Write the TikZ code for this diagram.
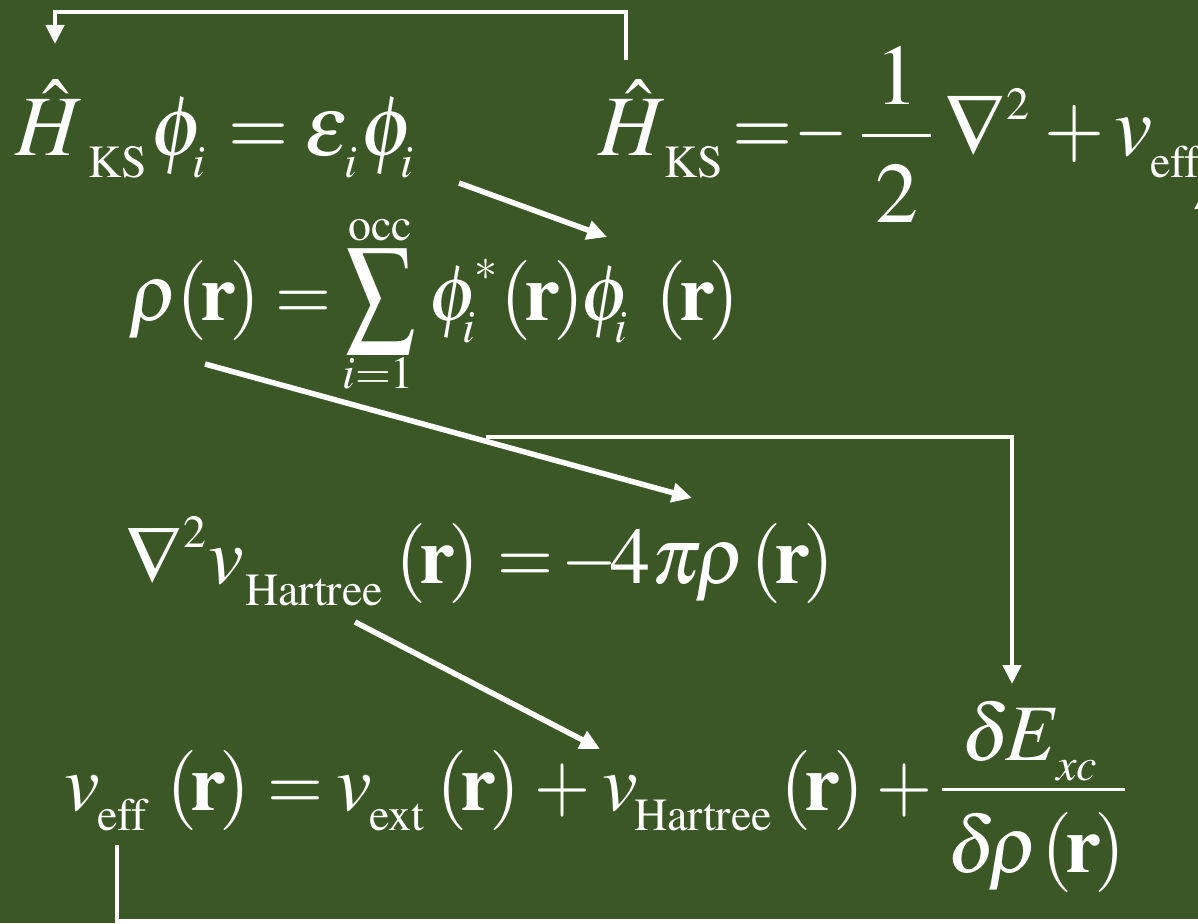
\documentclass[tikz,border=0pt]{standalone}
\usepackage{mathptmx}
\usetikzlibrary{arrows.meta}
\definecolor{bg}{RGB}{58,87,37}
\newcommand\eqp[4][eqm]{\node[#1] (#2) at #3 {$#4$};}
\newcommand\eqc[4][eqm]{\node[#1, anchor=base] (#2) at #3 {\scalebox{0.9}[1]{$#4$}};}
\newcommand\eqminus[3][eqm]{\node[#1, anchor=base] (#2) at #3 {\scalebox{0.8}[1]{$-$}};}
\newcommand\rr{(\mkern-1.5mu\mathbf{r}\mkern-1.5mu)}
\begin{document}
\begin{tikzpicture}[x=1pt,y=-1pt,
  eqm/.style={text=white, inner sep=0pt, anchor=base west, font=\fontsize{80}{90}\selectfont},
  eqs/.style={eqm, font=\fontsize{46}{50}\selectfont},
  eqM/.style={eqm, font=\fontsize{86}{96}\selectfont},
  fbar/.style={draw=white, line width=3pt},
  arr/.style={draw=white, line width=5.5pt, -{Triangle[length=20pt,width=19pt]}},
  fb/.style={draw=white, line width=4.5pt, -{Triangle[length=19pt,width=18pt]}}]
\fill[bg] (0,0) rectangle (1198,923);
\useasboundingbox (0,0) rectangle (1198,923);
\clip (0,0) rectangle (1198,923);
% ---- line 1a: H_KS phi_i = eps_i phi_i
\eqp[eqM]{ea1}{(15,155)}{\hat{H}}
\eqp[eqs]{ea2}{(88,177)}{\mathrm{KS}}
\eqp[eqM]{ea3}{(150,155)}{\phi}
\eqp[eqs]{ea4}{(192,177)}{i}
\eqc[eqM]{ea5}{(259,155)}{=}
\eqp[eqM]{ea6}{(304,155)}{\varepsilon}
\eqp[eqs]{ea7}{(344,177)}{i}
\eqp[eqM]{ea8}{(360,155)}{\phi}
\eqp[eqs]{ea9}{(400,177)}{i}
% ---- line 1b: H_KS = -1/2 nabla^2 + v_eff
\eqp[eqM]{eb1}{(598,155)}{\hat{H}}
\eqp[eqs]{eb2}{(664,177)}{\mathrm{KS}}
\eqc[eqM]{eb3}{(763,155)}{=}
\eqminus[eqM]{eb4}{(821,155)}
\node[eqM, anchor=base] (eb5) at (897,105) {$1$};
\node[eqM, anchor=base] (eb6) at (897,222) {$2$};
\draw[fbar] (862,135) -- (931,135);
\eqp[eqM]{eb7}{(944,155)}{\nabla}
\eqp[eqs]{eb8}{(1006,120)}{2}
\eqc[eqM]{eb9}{(1075,155)}{+}
\eqp[eqM]{eb10}{(1114,155)}{v}
\eqp[eqs]{eb11}{(1150,177)}{\mathrm{eff}}
% ---- line 2: rho(r) = sum phi_i^*(r) phi_i (r)
\eqp{ec1}{(128,320)}{\rho}
\eqp{ec2}{(176,320)}{\rr}
\eqc{ec3}{(303,320)}{=}
\node[eqm, anchor=base] (ec4) at (381,322) {\scalebox{0.86}[1.06]{$\displaystyle\sum$}};
\node[eqs, anchor=base] (ec5) at (380,240) {$\mathrm{occ}$};
\node[eqs, anchor=base] (ec6) at (378,388) {$i{=}1$};
\eqp{ec7}{(428,320)}{\phi}
\eqp[eqs]{ec8}{(462,342)}{i}
\eqp[eqs]{ec9}{(474,280)}{*}
\eqp{ec10}{(500,320)}{\rr}
\eqp{ec11}{(580,320)}{\phi}
\eqp[eqs]{ec12}{(614,342)}{i}
\eqp{ec13}{(655,320)}{\rr}
% ---- line 3: nabla^2 v_Hartree(r) = -4 pi rho(r)
\eqp{ed1}{(125,583)}{\nabla}
\eqp[eqs]{ed2}{(183,547)}{2}
\eqp{ed3}{(208,583)}{v}
\eqp[eqs]{ed4}{(245,605)}{\mathrm{Hartree}}
\eqp{ed5}{(395,583)}{\rr}
\eqc{ed6}{(525,583)}{=}
\eqc{ed7}{(589,583)}{-}
\eqp{ed8}{(610,583)}{4}
\eqp{ed9}{(651,583)}{\pi}
\eqp{ed10}{(695,583)}{\rho}
\eqp{ed11}{(750,583)}{\rr}
% ---- line 4: v_eff(r) = v_ext(r) + v_Hartree(r) + dE_xc / d rho(r)
\eqp{ee1}{(64,810)}{v}
\eqp[eqs]{ee2}{(97,830)}{\mathrm{eff}}
\eqp{ee3}{(166,810)}{\rr}
\eqc{ee4}{(295,810)}{=}
\eqp{ee5}{(336,810)}{v}
\eqp[eqs]{ee6}{(369,830)}{\mathrm{ext}}
\eqp{ee7}{(436,810)}{\rr}
\eqc{ee8}{(562,810)}{+}
\eqp{ee9}{(602,810)}{v}
\eqp[eqs]{ee10}{(634,830)}{\mathrm{Hartree}}
\eqp{ee11}{(780,810)}{\rr}
\eqc{ee12}{(904,810)}{+}
\draw[fbar] (942,789) -- (1125,789);
\eqp{ee13}{(961,760)}{\delta}
\eqp{ee14}{(1005,760)}{E}
\eqp[eqs]{ee15}{(1056,780)}{xc}
\eqp{ee16}{(947,872)}{\delta}
\eqp{ee17}{(988,872)}{\rho}
\eqp{ee18}{(1041,872)}{\rr}
% ---- connector end points
\coordinate (t0) at (626,60);
\coordinate (t1) at (626,12);
\coordinate (t2) at (55,12);
\coordinate (t3) at (55,44);
\coordinate (a1s) at (459,183);
\coordinate (a1e) at (607,237);
\coordinate (a2s) at (205,364);
\coordinate (a2e) at (692,498);
\coordinate (b0) at (486,437);
\coordinate (b1) at (1012,437);
\coordinate (b2) at (1012,684);
\coordinate (a4s) at (355,622);
\coordinate (a4e) at (600,749);
\coordinate (c0) at (117,845);
\coordinate (c1) at (117,921);
\coordinate (c2) at (1204,921);
\coordinate (c3) at (1204,190);
% ---- connectors
\draw[fb] (t0) -- (t1) -- (t2) -- (t3);
\draw[arr] (a1s) -- (a1e);
\draw[arr] (a2s) -- (a2e);
\draw[fb] (b0) -- (b1) -- (b2);
\draw[arr] (a4s) -- (a4e);
\draw[fb] (c0) -- (c1) -- (c2) -- (c3);
\end{tikzpicture}
\end{document}
